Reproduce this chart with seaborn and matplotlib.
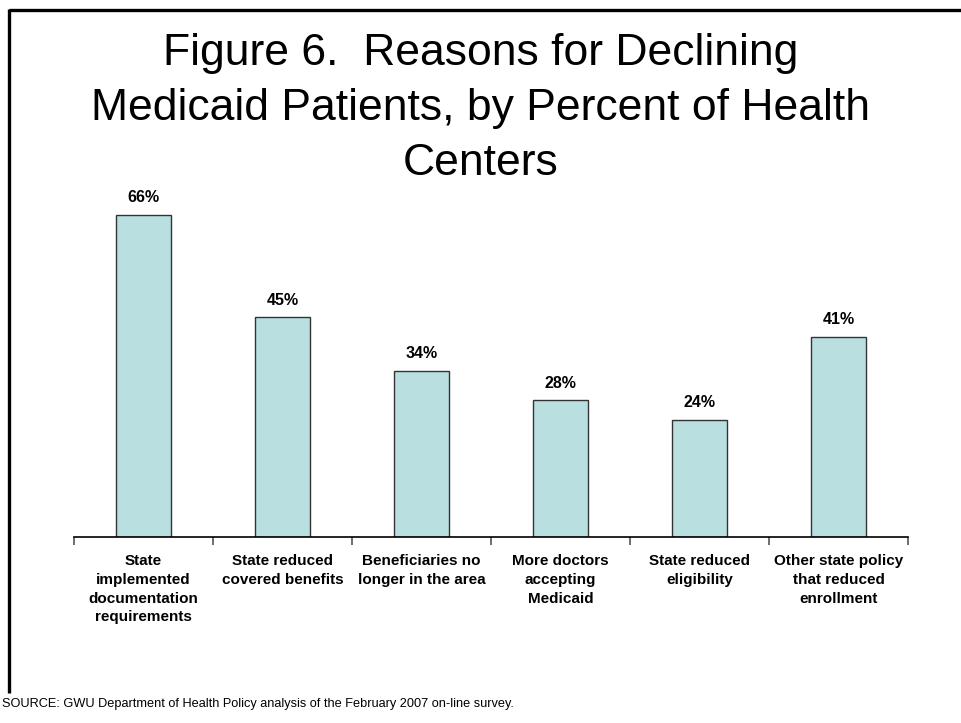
import matplotlib
matplotlib.use("Agg")
import matplotlib.pyplot as plt
from matplotlib.lines import Line2D
from matplotlib.ticker import FixedLocator
import seaborn as sns
import pandas as pd

categories = [
    "State\nimplemented\ndocumentation\nrequirements",
    "State reduced\ncovered benefits",
    "Beneficiaries no\nlonger in the area",
    "More doctors\naccepting\nMedicaid",
    "State reduced\neligibility",
    "Other state policy\nthat reduced\nenrollment",
]
values = [66, 45, 34, 28, 24, 41]
title = "Figure 6.  Reasons for Declining\nMedicaid Patients, by Percent of Health\nCenters"
source = "SOURCE: GWU Department of Health Policy analysis of the February 2007 on-line survey."

sns.set_theme(style="white")
plt.rcParams["font.family"] = ["Liberation Sans", "DejaVu Sans"]
plt.rcParams["text.color"] = "black"
plt.rcParams["xtick.color"] = "black"

df = pd.DataFrame({"cat": categories, "val": values})

fig = plt.figure(figsize=(9.61, 7.23), dpi=100)
ax = fig.add_axes([0.077, 0.2573, 0.868, 0.4725])
sns.barplot(data=df, x="cat", y="val", color="#B9DFE1", saturation=1,
            width=0.40, edgecolor="#333333", linewidth=1.0, ax=ax)

ax.set_ylim(0, 70)
ax.set_xlim(-0.5, len(categories) - 0.5)
ax.set_xlabel("")
ax.set_ylabel("")
ax.set_yticks([])
for s in ["left", "right", "top"]:
    ax.spines[s].set_visible(False)
ax.spines["bottom"].set_color("#000000")
ax.spines["bottom"].set_linewidth(1.2)

ax.tick_params(axis="x", which="major", length=0, pad=12)
ax.xaxis.set_minor_locator(FixedLocator([i - 0.5 for i in range(len(categories) + 1)]))
ax.tick_params(axis="x", which="minor", length=6, width=1.2, color="#555555", direction="out", bottom=True)
for lbl in ax.get_xticklabels():
    lbl.set_fontweight("bold")
    lbl.set_fontsize(11)
    lbl.set_linespacing(1.45)
    lbl.set_color("black")

ax.bar_label(ax.containers[0], labels=[f"{v}%" for v in values],
             padding=7, fontsize=11.5, fontweight="bold", color="black")

fig.text(0.5, 0.955, title, ha="center", va="top", fontsize=32, linespacing=1.44, color="black")
fig.text(0.002, 0.026, source, ha="left", va="center", fontsize=9.2, color="black",
         family=["Liberation Sans Narrow", "Liberation Sans", "DejaVu Sans"])

fig.add_artist(Line2D([0.0094, 1.0], [0.986, 0.986], color="black", lw=2.4,
                      transform=fig.transFigure, solid_capstyle="butt"))
fig.add_artist(Line2D([0.0094, 0.0094], [0.987, 0.0415], color="black", lw=2.4,
                      transform=fig.transFigure, solid_capstyle="butt"))

fig.savefig("out.png", dpi=100)
